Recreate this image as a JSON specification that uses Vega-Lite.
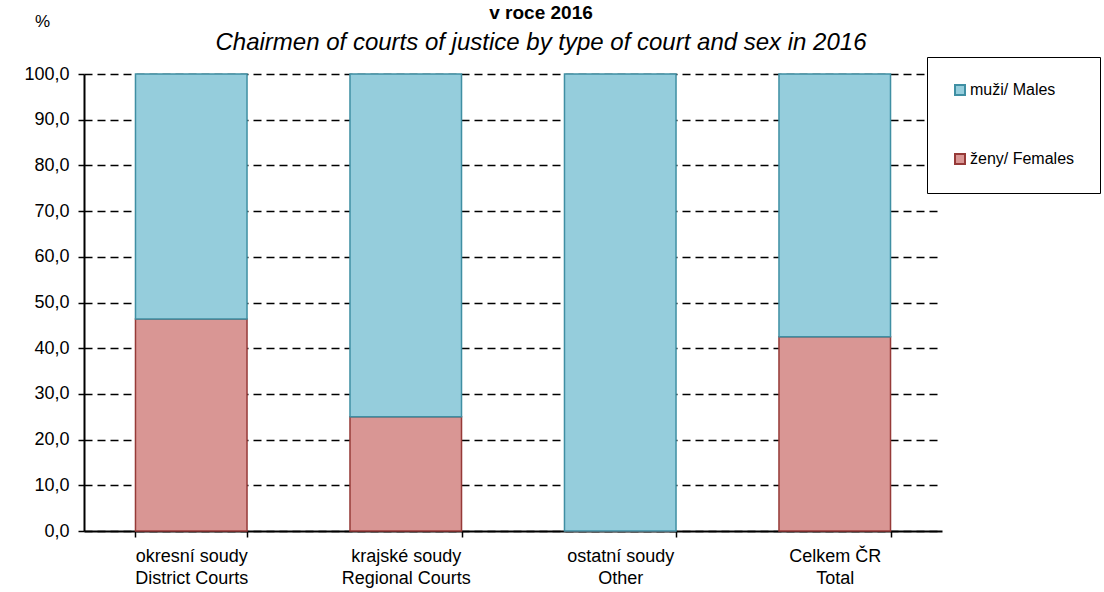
{
  "$schema": "https://vega.github.io/schema/vega-lite/v6.json",
  "width": 858,
  "height": 457,
  "autosize": {"type": "none"},
  "padding": {"left": 84, "top": 74, "right": 162, "bottom": 61},
  "background": "white",
  "config": {
    "font": "Liberation Sans",
    "view": {"stroke": null}
  },
  "title": {
    "text": "v roce 2016",
    "subtitle": "Chairmen of courts of justice by type of court and sex in 2016",
    "anchor": "middle",
    "frame": "group",
    "dx": 28,
    "offset": -43,
    "fontSize": 19,
    "fontWeight": "bold",
    "color": "black",
    "subtitleFontSize": 24,
    "subtitleFontStyle": "italic",
    "subtitleColor": "black",
    "subtitlePadding": 8
  },
  "data": {
    "values": [
      {"soud": "okresní soudy|District Courts", "pohlavi": "ženy/ Females", "podil": 46.4},
      {"soud": "okresní soudy|District Courts", "pohlavi": "muži/ Males", "podil": 53.6},
      {"soud": "krajské soudy|Regional Courts", "pohlavi": "ženy/ Females", "podil": 25.0},
      {"soud": "krajské soudy|Regional Courts", "pohlavi": "muži/ Males", "podil": 75.0},
      {"soud": "ostatní soudy|Other", "pohlavi": "ženy/ Females", "podil": 0.0},
      {"soud": "ostatní soudy|Other", "pohlavi": "muži/ Males", "podil": 100.0},
      {"soud": "Celkem ČR|Total", "pohlavi": "ženy/ Females", "podil": 42.5},
      {"soud": "Celkem ČR|Total", "pohlavi": "muži/ Males", "podil": 57.5}
    ]
  },
  "mark": {"type": "bar", "strokeWidth": 1.5},
  "encoding": {
    "x": {
      "field": "soud",
      "type": "nominal",
      "sort": null,
      "scale": {"paddingInner": 0.48, "paddingOuter": 0.24},
      "axis": {
        "title": null,
        "labelAngle": 0,
        "labelExpr": "split(datum.label, '|')",
        "labelFontSize": 18,
        "labelColor": "black",
        "labelPadding": 10,
        "labelLineHeight": 22,
        "tickBand": "extent",
        "tickColor": "black",
        "tickSize": 6,
        "tickWidth": 1.5,
        "domainColor": "black",
        "domainWidth": 2,
        "grid": false
      }
    },
    "y": {
      "field": "podil",
      "type": "quantitative",
      "stack": "zero",
      "scale": {"domain": [0, 100], "nice": false},
      "axis": {
        "values": [0, 10, 20, 30, 40, 50, 60, 70, 80, 90, 100],
        "labelExpr": "replace(format(datum.value, '.1f'), '.', ',')",
        "labelFontSize": 18,
        "labelColor": "black",
        "labelPadding": 9,
        "tickColor": "black",
        "tickSize": 6,
        "tickWidth": 1.5,
        "domainColor": "black",
        "domainWidth": 2,
        "grid": true,
        "gridColor": "black",
        "gridDash": [8, 5],
        "gridWidth": 1.5,
        "gridOpacity": 1,
        "title": "%",
        "titleAngle": 0,
        "titleFontSize": 17,
        "titleFontWeight": "normal",
        "titleColor": "black",
        "titleX": -42,
        "titleY": -48,
        "titleAlign": "center",
        "titleBaseline": "alphabetic"
      }
    },
    "fill": {
      "field": "pohlavi",
      "type": "nominal",
      "scale": {"domain": ["muži/ Males", "ženy/ Females"], "range": ["#95CDDC", "#D99694"]},
      "legend": {
        "title": null,
        "orient": "none",
        "legendX": 843,
        "legendY": -17,
        "strokeColor": "black",
        "fillColor": "white",
        "padding": 25,
        "rowPadding": 51,
        "labelFontSize": 16,
        "labelColor": "black",
        "labelOffset": 2,
        "symbolType": "square",
        "symbolSize": 100,
        "symbolStrokeWidth": 2
      }
    },
    "stroke": {
      "field": "pohlavi",
      "type": "nominal",
      "scale": {"domain": ["muži/ Males", "ženy/ Females"], "range": ["#3F8FA3", "#963A38"]},
      "legend": {
        "title": null,
        "orient": "none",
        "legendX": 843,
        "legendY": -17,
        "strokeColor": "black",
        "fillColor": "white",
        "padding": 25,
        "rowPadding": 51,
        "labelFontSize": 16,
        "labelColor": "black",
        "labelOffset": 2,
        "symbolType": "square",
        "symbolSize": 100,
        "symbolStrokeWidth": 2
      }
    },
    "order": {"field": "pohlavi", "sort": "descending"}
  }
}
